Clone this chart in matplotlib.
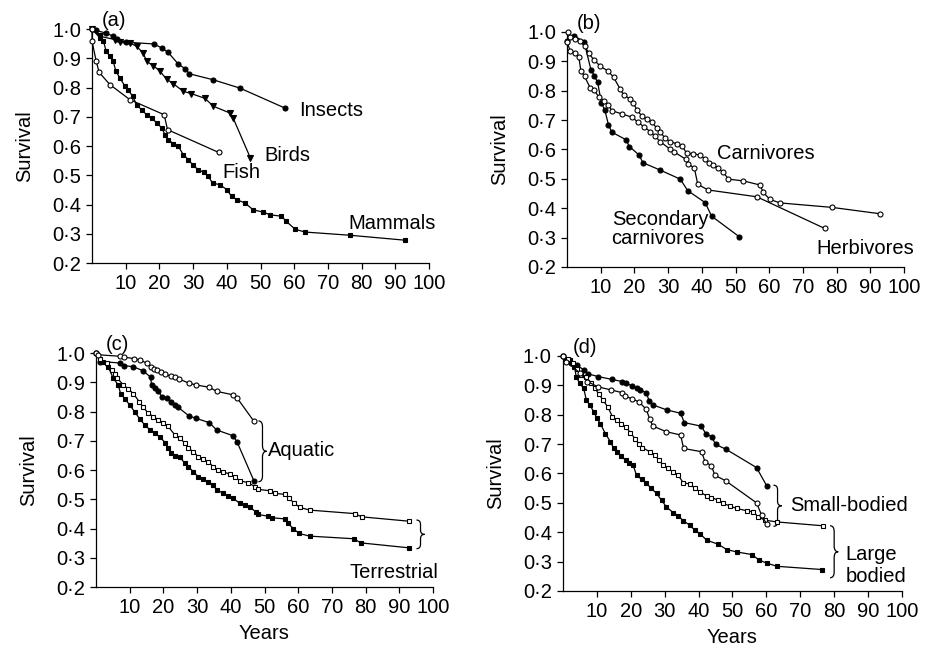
import matplotlib
matplotlib.use("Agg")
import matplotlib.pyplot as plt
from matplotlib.path import Path
from matplotlib.patches import PathPatch

plt.rcParams.update({
    "font.family": ["Liberation Sans", "DejaVu Sans"],
    "font.size": 14.5,
    "axes.spines.top": False, "axes.spines.right": False,
    "axes.linewidth": 0.9,
    "xtick.direction": "out", "ytick.direction": "out",
    "xtick.major.size": 4, "ytick.major.size": 4,
    "xtick.major.width": 0.9, "ytick.major.width": 0.9,
})

XTICKS = [10, 20, 30, 40, 50, 60, 70, 80, 90, 100]
YTICKS = [0.2, 0.3, 0.4, 0.5, 0.6, 0.7, 0.8, 0.9, 1.0]
YTICK_LABELS = ["0\u00b72", "0\u00b73", "0\u00b74", "0\u00b75", "0\u00b76",
                "0\u00b77", "0\u00b78", "0\u00b79", "1\u00b70"]

# ---- panel (a): taxa
insects_x = [0, 1.2, 4.2, 6.3, 7.5, 10, 18.4, 20.7, 22.6, 25.6, 27.7, 28.9, 35.8, 43.9, 57.2]
insects_y = [1.0, 0.995, 0.986, 0.975, 0.966, 0.955, 0.949, 0.935, 0.920, 0.880, 0.864, 0.847, 0.827, 0.798, 0.730]
birds_x = [0, 2.4, 6.8, 8.3, 11.3, 13.2, 15.2, 16.2, 18.2, 20.2, 22.1, 24.1, 27.1, 29.5, 33.5, 36.0, 40.9, 41.9, 47.0]
birds_y = [1.0, 0.975, 0.964, 0.954, 0.952, 0.941, 0.918, 0.889, 0.875, 0.855, 0.829, 0.813, 0.787, 0.779, 0.763, 0.736, 0.713, 0.695, 0.559]
fish_x = [0, 0, 1.2, 2.1, 5.3, 11.3, 21.4, 22.4, 37.6]
fish_y = [1.0, 0.958, 0.892, 0.852, 0.810, 0.758, 0.707, 0.656, 0.578]
mammals_x = [0, 2.4, 3.4, 4.2, 5.3, 6.3, 7.1, 8.3, 9.8, 10.8, 12.1, 13.2, 14.7, 16.2, 17.7, 19.2,
             20.7, 21.6, 22.6, 24.1, 25.6, 27.1, 28.6, 30.0, 31.5, 33.2, 34.5, 35.8, 37.9, 40.0,
             41.4, 42.9, 45.4, 47.8, 50.8, 52.8, 56.2, 57.7, 60.2, 63.1, 76.5, 92.9]
mammals_y = [1.0, 0.969, 0.958, 0.924, 0.907, 0.889, 0.855, 0.832, 0.804, 0.790, 0.770, 0.741,
             0.724, 0.707, 0.696, 0.679, 0.662, 0.639, 0.622, 0.608, 0.599, 0.570, 0.553, 0.534,
             0.519, 0.510, 0.496, 0.473, 0.468, 0.451, 0.428, 0.417, 0.405, 0.382, 0.374, 0.365,
             0.360, 0.342, 0.316, 0.306, 0.295, 0.278]

# ---- panel (b): trophic level
carn_x = [0.2, 1.0, 2.5, 3.9, 5.4, 6.4, 7.9, 9.9, 12.3, 13.8, 15.8, 16.8, 18.8, 19.7, 20.7, 22.2,
          23.7, 25.2, 26.7, 27.6, 29.1, 30.6, 32.6, 34.1, 35.5, 37.5, 39.5, 41.0, 42.0, 43.4, 44.9,
          46.4, 47.9, 52.3, 57.3, 58.2, 60.2, 63.2, 78.5, 93.0]
carn_y = [1.0, 0.983, 0.976, 0.968, 0.951, 0.928, 0.906, 0.883, 0.866, 0.846, 0.805, 0.786, 0.771,
          0.758, 0.735, 0.714, 0.703, 0.692, 0.672, 0.661, 0.638, 0.627, 0.619, 0.613, 0.587,
          0.585, 0.581, 0.567, 0.553, 0.547, 0.536, 0.522, 0.499, 0.493, 0.479, 0.454, 0.430,
          0.418, 0.403, 0.381]
herb_x = [0, 1.0, 2.5, 3.5, 4.1, 5.2, 6.9, 7.9, 9.4, 10.9, 12.3, 13.3, 16.3, 19.2, 21.2, 22.7,
          24.7, 26.1, 27.6, 30.6, 31.6, 35.2, 36.0, 37.8, 38.8, 41.9, 56.3, 76.5]
herb_y = [0.966, 0.934, 0.928, 0.915, 0.868, 0.849, 0.809, 0.803, 0.780, 0.766, 0.752, 0.732,
          0.721, 0.710, 0.692, 0.678, 0.661, 0.646, 0.627, 0.601, 0.593, 0.567, 0.551, 0.536,
          0.481, 0.462, 0.439, 0.331]
sec_x = [0, 2.2, 5.1, 7.1, 8.1, 9.1, 10.2, 11.2, 12.3, 13.3, 17.5, 18.5, 21.4, 22.5, 27.6, 33.6,
         35.8, 41.0, 42.9, 51.1]
sec_y = [0.97, 0.987, 0.965, 0.871, 0.851, 0.828, 0.758, 0.735, 0.684, 0.659, 0.633, 0.610,
         0.581, 0.555, 0.530, 0.499, 0.460, 0.419, 0.373, 0.303]

# ---- panel (c): aquatic vs terrestrial
aq_open_x = [0, 0.7, 7.1, 8.3, 11.3, 13.2, 15.0, 16.2, 17.2, 18.2, 19.3, 20.5, 22.4, 23.4, 24.6,
             27.6, 29.6, 33.6, 35.8, 40.7, 41.9, 46.9]
aq_open_y = [1.0, 0.994, 0.989, 0.986, 0.981, 0.975, 0.966, 0.952, 0.945, 0.941, 0.934, 0.928,
             0.920, 0.918, 0.911, 0.897, 0.891, 0.883, 0.869, 0.857, 0.846, 0.766]
aq_fill_x = [0, 1.2, 7.1, 8.4, 11.1, 13.8, 16.2, 16.5, 17.5, 18.5, 19.5, 21.0, 22.2, 23.4, 24.4,
             27.6, 29.6, 33.6, 35.8, 40.7, 41.9, 46.9]
aq_fill_y = [1.0, 0.971, 0.966, 0.957, 0.953, 0.940, 0.918, 0.889, 0.880, 0.869, 0.851, 0.846,
             0.831, 0.823, 0.814, 0.785, 0.777, 0.762, 0.737, 0.717, 0.695, 0.562]
te_open_x = [0, 1.2, 3.2, 4.6, 5.6, 6.3, 8.1, 9.6, 11.1, 12.8, 14.0, 15.5, 17.0, 18.5, 20.0,
             21.4, 23.4, 24.9, 26.4, 27.4, 28.9, 30.3, 31.8, 33.3, 34.8, 36.3, 37.7, 39.7,
             41.2, 42.7, 45.2, 47.1, 48.1, 51.6, 53.1, 56.0, 57.3, 58.7, 60.5, 63.4, 76.8,
             78.8, 92.9]
te_open_y = [1.0, 0.979, 0.966, 0.943, 0.929, 0.914, 0.891, 0.877, 0.861, 0.834, 0.815, 0.794,
             0.783, 0.771, 0.762, 0.749, 0.720, 0.709, 0.691, 0.674, 0.663, 0.646, 0.637, 0.629,
             0.611, 0.600, 0.594, 0.586, 0.577, 0.563, 0.557, 0.543, 0.534, 0.529, 0.520, 0.517,
             0.503, 0.488, 0.472, 0.463, 0.451, 0.440, 0.425]
te_fill_x = [0, 2.2, 3.7, 5.1, 6.6, 7.3, 8.6, 10.1, 11.6, 13.0, 14.5, 16.0, 17.5, 19.0, 20.5,
             21.4, 22.4, 23.4, 24.9, 26.4, 27.4, 28.9, 30.3, 31.8, 33.3, 34.8, 35.8, 37.7,
             39.2, 40.7, 42.7, 44.2, 45.8, 47.4, 48.1, 51.1, 52.1, 56.0, 57.0, 58.5, 60.3,
             63.4, 76.6, 78.5, 92.9]
te_fill_y = [1.0, 0.971, 0.951, 0.914, 0.891, 0.861, 0.843, 0.821, 0.797, 0.774, 0.754, 0.737,
             0.726, 0.712, 0.694, 0.674, 0.659, 0.648, 0.643, 0.623, 0.611, 0.594, 0.577, 0.568,
             0.560, 0.549, 0.531, 0.522, 0.511, 0.503, 0.486, 0.480, 0.472, 0.457, 0.448, 0.442,
             0.437, 0.433, 0.418, 0.400, 0.383, 0.374, 0.365, 0.351, 0.334]

# ---- panel (d): body size
sm_fill_x = [0, 1.0, 2.5, 4.1, 6.2, 7.4, 10.3, 14.5, 17.4, 18.5, 20.5, 21.7, 22.7, 24.6, 25.4,
             26.6, 30.7, 34.7, 35.8, 40.8, 42.1, 43.9, 45.0, 48.0, 57.1, 60.1]
sm_fill_y = [1.0, 0.986, 0.977, 0.969, 0.952, 0.939, 0.930, 0.920, 0.913, 0.907, 0.898, 0.890,
             0.884, 0.875, 0.847, 0.833, 0.816, 0.805, 0.773, 0.761, 0.736, 0.725, 0.699, 0.683,
             0.620, 0.558]
sm_open_x = [0, 1.0, 4.9, 7.2, 10.3, 14.3, 17.5, 18.4, 20.4, 22.4, 24.6, 25.6, 26.6, 30.5, 34.7,
             35.6, 40.9, 41.9, 43.8, 44.8, 48.0, 57.1, 58.6, 60.1]
sm_open_y = [1.0, 0.981, 0.943, 0.913, 0.895, 0.884, 0.875, 0.864, 0.853, 0.844, 0.818, 0.784,
             0.761, 0.742, 0.731, 0.685, 0.674, 0.640, 0.626, 0.594, 0.575, 0.500, 0.458, 0.427]
lg_open_x = [0, 1.5, 3.0, 4.1, 5.4, 6.9, 8.4, 9.4, 10.6, 11.8, 13.3, 14.6, 15.8, 17.2, 18.5,
             19.9, 21.2, 22.4, 23.4, 25.6, 27.1, 28.3, 29.6, 31.0, 32.5, 34.0, 35.5, 37.6, 38.9,
             40.4, 42.4, 43.8, 45.8, 47.3, 49.3, 51.2, 54.2, 56.2, 57.6, 59.6, 63.1, 76.6]
lg_open_y = [1.0, 0.989, 0.975, 0.955, 0.935, 0.927, 0.907, 0.890, 0.870, 0.850, 0.825, 0.793,
             0.782, 0.768, 0.759, 0.739, 0.719, 0.700, 0.688, 0.674, 0.663, 0.645, 0.628, 0.617,
             0.605, 0.594, 0.568, 0.564, 0.549, 0.538, 0.523, 0.518, 0.509, 0.498, 0.489, 0.481,
             0.473, 0.469, 0.452, 0.441, 0.435, 0.422]
lg_fill_x = [0, 2.0, 3.4, 3.9, 4.9, 6.1, 6.9, 7.9, 9.1, 10.0, 11.0, 12.5, 14.0, 15.0, 15.9, 17.2,
             18.5, 19.5, 20.7, 21.7, 23.2, 24.6, 26.1, 27.6, 29.1, 30.5, 32.5, 34.0, 35.5, 37.4,
             38.9, 40.4, 42.4, 45.8, 48.3, 51.2, 55.7, 57.9, 60.1, 63.1, 76.4]
lg_fill_y = [1.0, 0.986, 0.964, 0.930, 0.907, 0.890, 0.850, 0.833, 0.810, 0.788, 0.770, 0.736,
             0.708, 0.685, 0.674, 0.659, 0.645, 0.634, 0.628, 0.594, 0.580, 0.566, 0.549, 0.532,
             0.509, 0.486, 0.467, 0.456, 0.439, 0.424, 0.407, 0.395, 0.373, 0.359, 0.341, 0.333,
             0.324, 0.305, 0.295, 0.284, 0.273]

# figure-pixel placement of the four panels (925 x 648 canvas)
POS = {
    "a": [0.0995, 0.5941, 0.3643, 0.3611],
    "b": [0.6130, 0.5880, 0.3643, 0.3627],
    "c": [0.1038, 0.0941, 0.3643, 0.3611],
    "d": [0.6086, 0.0880, 0.3665, 0.3627],
}


def _series(ax, x, y, marker, filled, ms=3.6):
    ax.plot(x, y, color="black", lw=0.9, marker=marker, ms=ms,
            mfc="black" if filled else "white", mec="black", mew=0.8,
            clip_on=False, zorder=3 if filled else 4)


def _brace(ax, x, y0, y1, w, q=0.02):
    """Curly brace '}' from y0 (bottom) to y1 (top), tip pointing right by w."""
    ym = (y0 + y1) / 2
    h = x + w / 2
    verts = [(x, y1), (h, y1), (h, y1 - q), (h, ym + q), (h, ym), (x + w, ym),
             (h, ym), (h, ym - q), (h, y0 + q), (h, y0), (x, y0)]
    codes = [Path.MOVETO, Path.CURVE3, Path.CURVE3, Path.LINETO, Path.CURVE3, Path.CURVE3,
             Path.CURVE3, Path.CURVE3, Path.LINETO, Path.CURVE3, Path.CURVE3]
    ax.add_patch(PathPatch(Path(verts, codes), fill=False, lw=0.9, ec="black", clip_on=False))


def _frame(ax, letter, xlabel=False):
    ax.set_xlim(0, 100)
    ax.set_ylim(0.2, 1.0)
    ax.set_xticks(XTICKS)
    ax.set_xticklabels([str(t) for t in XTICKS])
    ax.set_yticks(YTICKS)
    ax.set_yticklabels(YTICK_LABELS)
    ax.tick_params(pad=4)
    ax.set_ylabel("Survival", labelpad=13)
    if xlabel:
        ax.set_xlabel("Years", labelpad=5)
    ax.text(3, 1.03, f"({letter})", ha="left", va="center")


fig = plt.figure(figsize=(9.25, 6.48), dpi=100)

ax = fig.add_axes(POS["a"])
_frame(ax, "a")
_series(ax, mammals_x, mammals_y, "s", True, ms=3.3)
_series(ax, fish_x, fish_y, "o", False)
_series(ax, birds_x, birds_y, "v", True, ms=4.2)
_series(ax, insects_x, insects_y, "o", True)
ax.text(61.4, 0.72, "Insects", va="center")
ax.text(51.1, 0.567, "Birds", va="center")
ax.text(38.7, 0.511, "Fish", va="center")
ax.text(76.2, 0.334, "Mammals", va="center")

ax = fig.add_axes(POS["b"])
_frame(ax, "b")
_series(ax, sec_x, sec_y, "o", True)
_series(ax, herb_x, herb_y, "o", False)
_series(ax, carn_x, carn_y, "o", False)
ax.text(44.4, 0.585, "Carnivores", va="center")
ax.text(13.3, 0.36, "Secondary", va="center")
ax.text(13.0, 0.297, "carnivores", va="center")
ax.text(74.0, 0.263, "Herbivores", va="center")

ax = fig.add_axes(POS["c"])
_frame(ax, "c", xlabel=True)
_series(ax, te_fill_x, te_fill_y, "s", True, ms=3.3)
_series(ax, te_open_x, te_open_y, "s", False, ms=3.3)
_series(ax, aq_fill_x, aq_fill_y, "o", True)
_series(ax, aq_open_x, aq_open_y, "o", False)
_brace(ax, 48.2, 0.56, 0.768, 2.4)
ax.text(51.1, 0.666, "Aquatic", va="center")
_brace(ax, 95.1, 0.331, 0.429, 2.4, q=0.015)
ax.text(75.1, 0.248, "Terrestrial", va="center")

ax = fig.add_axes(POS["d"])
_frame(ax, "d", xlabel=True)
_series(ax, lg_fill_x, lg_fill_y, "s", True, ms=3.3)
_series(ax, lg_open_x, lg_open_y, "s", False, ms=3.3)
_series(ax, sm_open_x, sm_open_y, "o", False)
_series(ax, sm_fill_x, sm_fill_y, "o", True)
_brace(ax, 62.1, 0.42, 0.56, 2.4, q=0.015)
ax.text(67.0, 0.49, "Small-bodied", va="center")
_brace(ax, 78.8, 0.245, 0.422, 2.4)
ax.text(83.4, 0.325, "Large", va="center")
ax.text(83.4, 0.248, "bodied", va="center")

fig.savefig("out.png", dpi=100)
